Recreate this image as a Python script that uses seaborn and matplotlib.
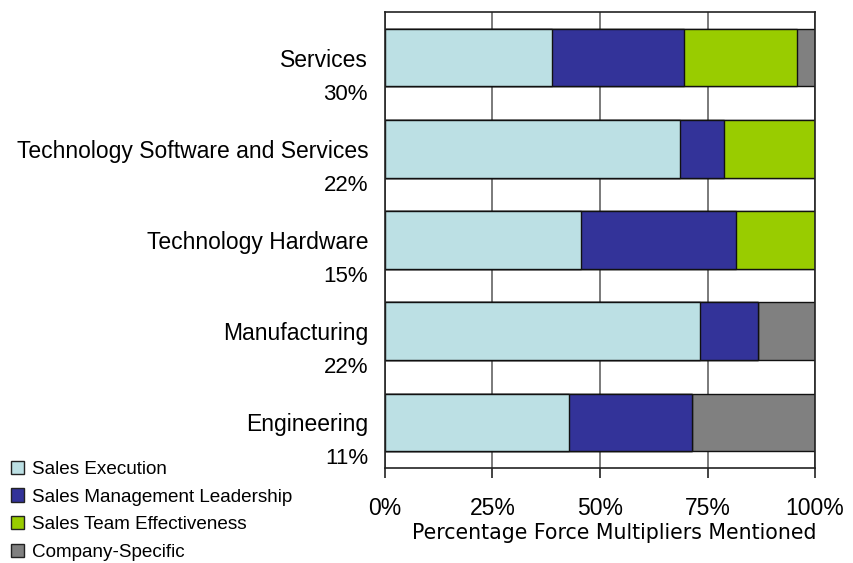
import matplotlib
matplotlib.use("Agg")
import matplotlib.pyplot as plt
import seaborn as sns
import pandas as pd
import numpy as np
from matplotlib.patches import Patch

categories = ["Services", "Technology Software and Services", "Technology Hardware",
              "Manufacturing", "Engineering"]
shares = ["30%", "22%", "15%", "22%", "11%"]
series_names = ["Sales Execution", "Sales Management Leadership",
                "Sales Team Effectiveness", "Company-Specific"]
sales_execution = [38.9, 68.5, 45.5, 73.3, 42.9]
sales_mgmt_leadership = [30.7, 10.4, 36.2, 13.5, 28.5]
sales_team_effectiveness = [26.1, 21.1, 18.3, 0.0, 0.0]
company_specific = [4.3, 0.0, 0.0, 13.2, 28.6]
xticks = [0, 25, 50, 75, 100]
xtick_labels = ["0%", "25%", "50%", "75%", "100%"]
colors = ["#BCE0E4", "#333399", "#99CC00", "#808080"]

sns.set_style("white")
plt.rcParams["font.family"] = ["Liberation Sans", "DejaVu Sans"]
plt.rcParams["text.color"] = "black"
plt.rcParams["xtick.color"] = "black"
plt.rcParams["ytick.color"] = "black"
plt.rcParams["axes.labelcolor"] = "black"

fig = plt.figure(figsize=(8.54, 5.63), dpi=100)
ax = fig.add_axes([385/854, 1-468/563, 430/854, 456/563])

series = [sales_execution, sales_mgmt_leadership, sales_team_effectiveness, company_specific]
cum = np.cumsum(np.array(series), axis=0)

ax.set_axisbelow(True)
ax.xaxis.grid(True, color="#707070", linewidth=1.3)
ax.yaxis.grid(False)

for k in range(3, -1, -1):
    df = pd.DataFrame({"category": categories, "value": cum[k]})
    sns.barplot(data=df, y="category", x="value", orient="h", color=colors[k],
                saturation=1, width=0.63, edgecolor="#111111", linewidth=1.0,
                ax=ax, order=categories)

ax.set_xlim(0, 100)
ax.set_ylim(4.5, -0.5)
ax.set_xticks(xticks)
ax.set_xticklabels(xtick_labels, fontsize=16.5)
ax.set_xlabel("Percentage Force Multipliers Mentioned", fontsize=14.8,
              family="DejaVu Sans")
ax.xaxis.set_label_coords((614.5 - 385) / 430, -(533 - 468) / 456)
ax.xaxis.label.set_va("center")
ax.set_ylabel("")
ax.tick_params(axis="y", labelsize=16.5, length=0, pad=12)
ax.tick_params(axis="x", length=7, width=1.2, color="#222222", direction="out",
               bottom=True, pad=14)

for sp in ax.spines.values():
    sp.set_color("#222222")
    sp.set_linewidth(1.2)

trans = ax.get_yaxis_transform()
for i, s in enumerate(shares):
    ax.text(-17/430, i + 0.4, s, transform=trans, ha="right", va="center", fontsize=16)

handles = [Patch(facecolor=c, edgecolor="#222222", linewidth=1.0, label=n)
           for c, n in zip(colors, series_names)]
fig.legend(handles=handles, loc="upper left", bbox_to_anchor=(0.004, 1-453/563),
           frameon=False, fontsize=13.6, handlelength=0.7, handleheight=0.7,
           handletextpad=0.4, labelspacing=0.56, borderaxespad=0)

fig.savefig("out.png", dpi=100)
